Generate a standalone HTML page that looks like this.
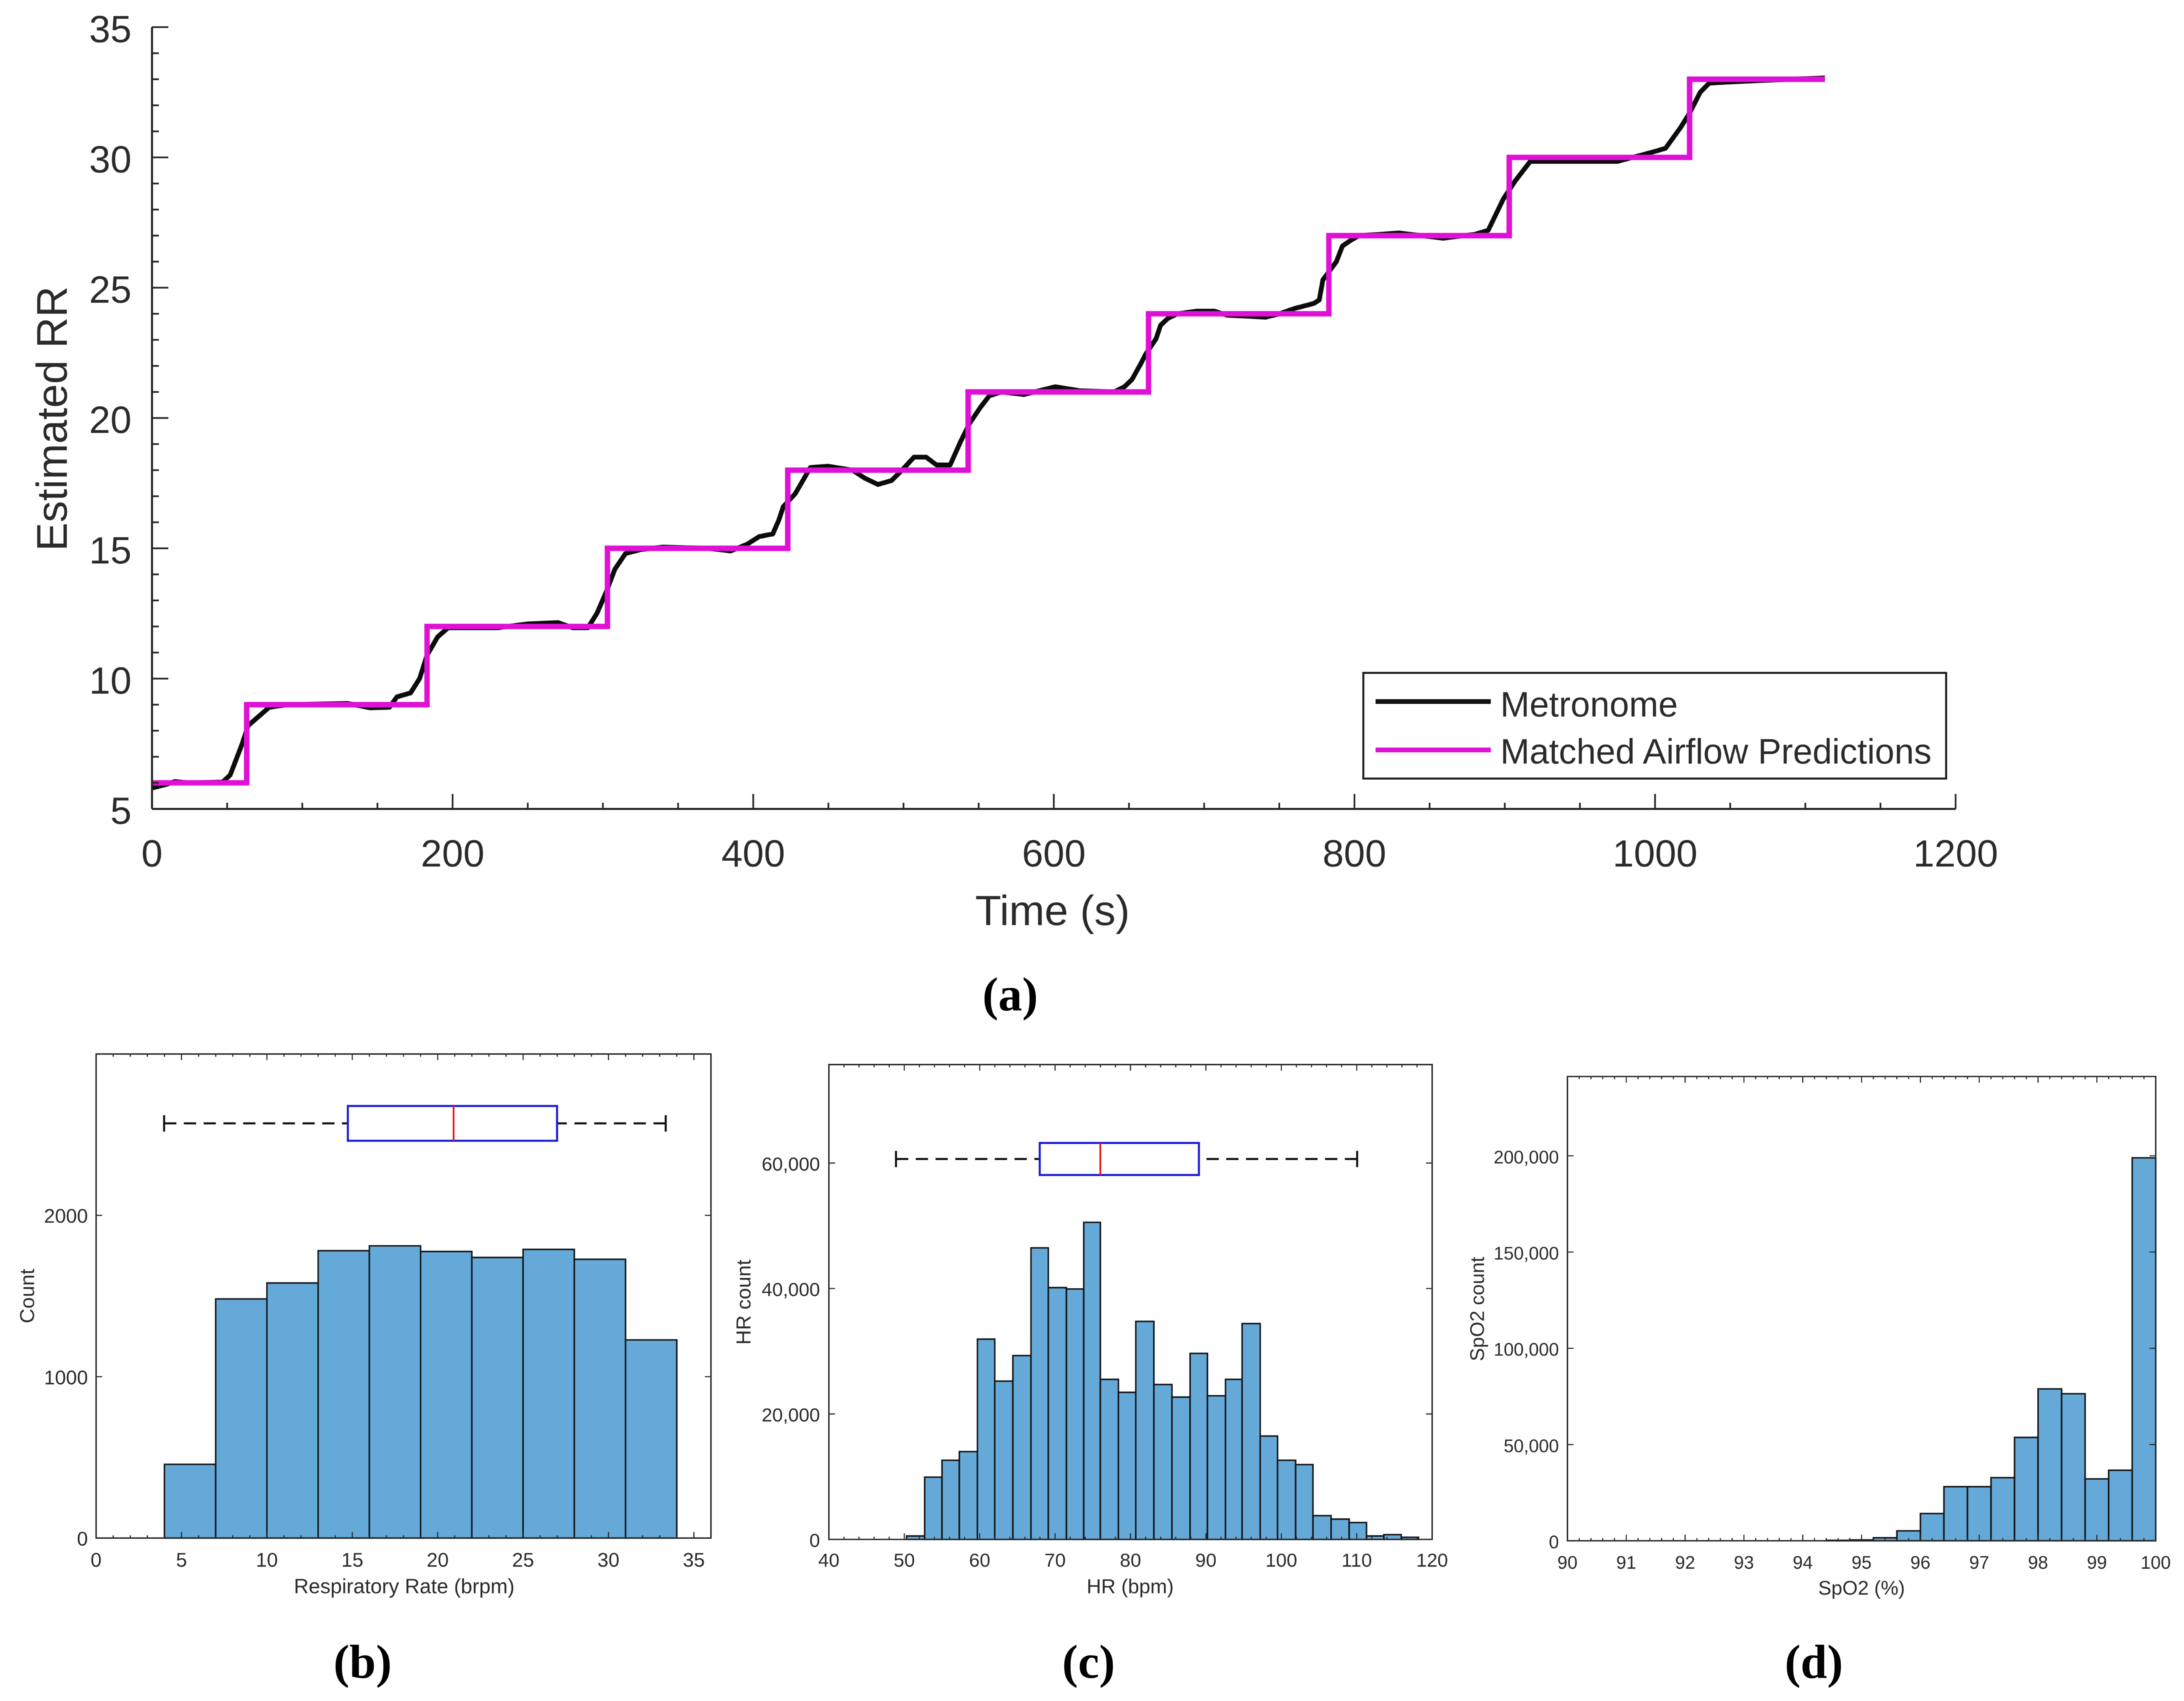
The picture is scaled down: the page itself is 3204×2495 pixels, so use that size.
<!DOCTYPE html>
<html lang="en">
<head>
<meta charset="utf-8">
<title>Respiratory rate estimation and vital sign histograms</title>
<style>
html,body{margin:0;padding:0;background:#fff;width:3204px;height:2495px;overflow:hidden}
svg{display:block;filter:blur(0.6px)}
text{font-family:"Liberation Sans",Arial,sans-serif;fill:#2b2b2b}
.caption{font-family:"Liberation Serif","Times New Roman",serif;font-weight:bold;font-size:70px;fill:#000;text-anchor:middle}
</style>
</head>
<body>
<svg id="figure" xmlns="http://www.w3.org/2000/svg" width="3204" height="2495" viewBox="0 0 3204 2495">
  <rect x="0" y="0" width="3204" height="2495" fill="#fff"/>
  <g id="panel-a"></g>
  <g id="panel-b"></g>
  <g id="panel-c"></g>
  <g id="panel-d"></g>

  <text transform="translate(98,614) rotate(-90)" text-anchor="middle" font-size="63">Estimated RR</text>
  <text x="1544" y="1357" text-anchor="middle" font-size="62.5">Time (s)</text>

  <text x="593" y="2337" text-anchor="middle" font-size="30.2">Respiratory Rate (brpm)</text>
  <text transform="translate(50,1901) rotate(-90)" text-anchor="middle" font-size="30">Count</text>
  <text x="1658" y="2337" text-anchor="middle" font-size="29.5">HR (bpm)</text>
  <text transform="translate(1101,1910) rotate(-90)" text-anchor="middle" font-size="30">HR count</text>
  <text x="2731" y="2339" text-anchor="middle" font-size="29">SpO2 (%)</text>
  <text transform="translate(2177,1920) rotate(-90)" text-anchor="middle" font-size="29">SpO2 count</text>

  <text class="caption" x="1482" y="1482">(a)</text>
  <text class="caption" x="532" y="2461">(b)</text>
  <text class="caption" x="1597" y="2461">(c)</text>
  <text class="caption" x="2661" y="2461">(d)</text>

  <g id="legend">
    <rect x="2000" y="987" width="855" height="155" fill="#fff" stroke="#222" stroke-width="3"/>
    <line x1="2018" x2="2187" y1="1029" y2="1029" stroke="#111" stroke-width="7"/>
    <text x="2201" y="1051" font-size="51.5">Metronome</text>
    <line x1="2018" x2="2187" y1="1100" y2="1100" stroke="#e011d6" stroke-width="7"/>
    <text x="2201" y="1120" font-size="51.5">Matched Airflow Predictions</text>
  </g>
</svg>
<script>
/* ---------- Panel (a) data ---------- */
const timeTickValues = [0, 200, 400, 600, 800, 1000, 1200];
const rrTickValues = [5, 10, 15, 20, 25, 30, 35];
const predictionTimes = [0, 63, 63, 183, 183, 303, 303, 423, 423, 543, 543, 663, 663, 783, 783, 903, 903, 1023, 1023, 1113];
const predictionRates = [6, 6, 9, 9, 12, 12, 15, 15, 18, 18, 21, 21, 24, 24, 27, 27, 30, 30, 33, 33];
const metronomeTimes = [0, 10, 15, 25, 47, 52, 56, 60, 64, 70, 78, 90, 130, 145, 158, 163, 172, 178, 183, 190, 197, 230, 250, 270, 280, 290, 296, 302, 308, 315, 325, 340, 370, 385, 396, 404, 413, 417, 420, 428, 434, 438, 450, 466, 474, 483, 492, 499, 507, 515, 522, 531, 538, 544, 551, 557, 565, 580, 601, 617, 640, 647, 652, 658, 661, 668, 671, 676, 682, 695, 707, 715, 741, 750, 760, 773, 776.6, 779, 788, 792, 797, 803, 830, 859, 880, 889, 899, 907, 917, 947, 975, 998, 1007, 1017, 1023, 1030, 1036, 1050, 1090, 1113];
const metronomeRates = [5.8, 5.95, 6.05, 6.0, 6.03, 6.3, 6.9, 7.5, 8.2, 8.5, 8.9, 9.0, 9.05, 8.88, 8.9, 9.3, 9.45, 10.0, 10.9, 11.6, 11.95, 11.95, 12.1, 12.15, 11.95, 11.95, 12.5, 13.3, 14.2, 14.8, 14.95, 15.05, 15.0, 14.9, 15.16, 15.45, 15.55, 16.08, 16.6, 17.1, 17.7, 18.1, 18.15, 18.0, 17.7, 17.45, 17.6, 18.0, 18.5, 18.5, 18.2, 18.2, 19.1, 19.8, 20.4, 20.85, 21.0, 20.9, 21.2, 21.05, 21.0, 21.2, 21.48, 22.1, 22.44, 23.04, 23.56, 23.83, 24.0, 24.1, 24.1, 23.95, 23.87, 24.0, 24.2, 24.4, 24.53, 25.3, 26.0, 26.6, 26.8, 27.0, 27.1, 26.9, 27.05, 27.2, 28.4, 29.1, 29.85, 29.85, 29.85, 30.2, 30.35, 31.15, 31.7, 32.5, 32.85, 32.9, 33.0, 33.05];

/* ---------- Panel (b) data ---------- */
const rrBinEdges = [4, 7, 10, 13, 16, 19, 22, 25, 28, 31, 34];
const rrCounts = [457, 1482, 1581, 1781, 1811, 1776, 1739, 1789, 1728, 1228];
const rrXTicks = [0, 5, 10, 15, 20, 25, 30, 35];
const rrYTicks = [0, 1000, 2000];
const rrYTickLabels = ['0', '1000', '2000'];
const rrBoxStats = [3.98, 14.74, 20.93, 26.99, 33.35];
const rrBoxLevel = [2570];

/* ---------- Panel (c) data ---------- */
const hrBinEdges = [50.3, 52.7, 55, 57.3, 59.7, 62, 64.4, 66.8, 69.1, 71.5, 73.8, 76, 78.4, 80.7, 83.1, 85.5, 87.9, 90.2, 92.6, 94.8, 97.2, 99.5, 101.9, 104.2, 106.6, 109, 111.3, 113.6, 115.9, 118.2];
const hrCounts = [550, 9930, 12620, 14000, 31930, 25240, 29310, 46480, 40140, 39930, 50550, 25520, 23450, 34760, 24690, 22690, 29660, 22900, 25520, 34410, 16480, 12620, 11930, 3790, 3240, 2690, 550, 760, 345];
const hrXTicks = [40, 50, 60, 70, 80, 90, 100, 110, 120];
const hrYTicks = [0, 20000, 40000, 60000];
const hrYTickLabels = ['0', '20,000', '40,000', '60,000'];
const hrBoxStats = [48.9, 67.96, 75.99, 89.07, 110.05];
const hrBoxLevel = [60650];

/* ---------- Panel (d) data ---------- */
const spo2BinEdges = [94.4, 94.8, 95.2, 95.6, 96, 96.4, 96.8, 97.2, 97.6, 98, 98.4, 98.8, 99.2, 99.6, 100];
const spo2Counts = [225, 450, 1570, 5170, 14160, 28100, 28100, 32800, 53700, 78900, 76400, 32150, 36650, 198950];
const spo2XTicks = [90, 91, 92, 93, 94, 95, 96, 97, 98, 99, 100];
const spo2YTicks = [0, 50000, 100000, 150000, 200000];
const spo2YTickLabels = ['0', '50,000', '100,000', '150,000', '200,000'];

const NS = 'http://www.w3.org/2000/svg';
const INK = '#262626';

function mk(tag, attrs, parent) {
  const node = document.createElementNS(NS, tag);
  for (const key in attrs) node.setAttribute(key, attrs[key]);
  parent.appendChild(node);
  return node;
}

function scale(d0, d1, p0, p1) {
  return v => p0 + (v - d0) * (p1 - p0) / (d1 - d0);
}

/* ---------- Panel (a) ---------- */
(function drawPanelA() {
  const g = document.getElementById('panel-a');
  const x = scale(0, 1200, 223, 2869);
  const y = scale(5, 35, 1186.5, 39.8);
  const bottom = y(5);
  const left = x(0);

  const metroPts = metronomeTimes.map((t, i) => x(t).toFixed(1) + ',' + y(metronomeRates[i]).toFixed(1)).join(' ');
  const metro = mk('polyline', {points: metroPts, fill: 'none', stroke: '#0c0c0c', 'stroke-width': 7, 'stroke-linejoin': 'round'}, g);
  
  

  const predPts = predictionTimes.map((t, i) => x(t).toFixed(1) + ',' + y(predictionRates[i]).toFixed(1)).join(' ');
  const pred = mk('polyline', {points: predPts, fill: 'none', stroke: '#e011d6', 'stroke-width': 8, 'stroke-linejoin': 'miter'}, g);
  
  

  const xAxis = mk('line', {x1: left, x2: x(1200), y1: bottom, y2: bottom, stroke: INK, 'stroke-width': 3}, g);
  
  
  const yAxis = mk('line', {x1: left, x2: left, y1: y(35), y2: bottom, stroke: INK, 'stroke-width': 3}, g);
  
  

  for (let t = 0; t <= 1200; t += 50) {
    const major = timeTickValues.includes(t);
    const tick = mk('line', {x1: x(t), x2: x(t), y1: bottom, y2: bottom - (major ? 22 : 9), stroke: INK, 'stroke-width': 2.5}, g);
    
    
  }
  for (let v = 5; v <= 35; v += 1) {
    const major = rrTickValues.includes(v);
    const tick = mk('line', {x1: left, x2: left + (major ? 24 : 10), y1: y(v), y2: y(v), stroke: INK, 'stroke-width': 2.5}, g);
    
    
  }
  timeTickValues.forEach(t => {
    const label = mk('text', {x: x(t), y: 1271, 'text-anchor': 'middle', 'font-size': 56}, g);
    label.textContent = String(t);
    
    
  });
  rrTickValues.forEach(v => {
    const label = mk('text', {x: 193, y: y(v) + 22, 'text-anchor': 'end', 'font-size': 56}, g);
    label.textContent = String(v);
    
    
  });
})();

/* ---------- Histograms ---------- */
function drawHistogram(opts) {
  const g = document.getElementById(opts.id);
  const b = opts.box;
  const x = scale(opts.xMin, opts.xMax, b.left, b.right);
  const y = scale(0, opts.yMax, b.bottom, b.top);

  const frame = mk('rect', {x: b.left, y: b.top, width: b.right - b.left, height: b.bottom - b.top, fill: '#fff', stroke: 'none'}, g);
  
  

  opts.counts.forEach((c, i) => {
    const x0 = x(opts.edges[i]);
    const x1 = x(opts.edges[i + 1]);
    const bar = mk('rect', {x: x0, y: y(c), width: x1 - x0, height: b.bottom - y(c), fill: '#64a9d8', stroke: '#141414', 'stroke-width': 2.2}, g);
    
    
  });

  if (opts.stats) {
    const s = opts.stats;
    const cy = y(opts.level);
    const whiskerLow = mk('line', {x1: x(s[0]), x2: x(s[1]), y1: cy, y2: cy, stroke: '#111', 'stroke-width': 3, 'stroke-dasharray': '18 11'}, g);
    
    
    const whiskerHigh = mk('line', {x1: x(s[4]), x2: x(s[3]), y1: cy, y2: cy, stroke: '#111', 'stroke-width': 3, 'stroke-dasharray': '18 11'}, g);
    
    
    const capLow = mk('line', {x1: x(s[0]), x2: x(s[0]), y1: cy - 12, y2: cy + 12, stroke: '#111', 'stroke-width': 3}, g);
    
    
    const capHigh = mk('line', {x1: x(s[4]), x2: x(s[4]), y1: cy - 12, y2: cy + 12, stroke: '#111', 'stroke-width': 3}, g);
    
    
    const iqr = mk('rect', {x: x(s[1]), y: cy - opts.boxHalf, width: x(s[3]) - x(s[1]), height: opts.boxHalf * 2, fill: '#fff', stroke: '#1a1ad6', 'stroke-width': 3}, g);
    
    
    const median = mk('line', {x1: x(s[2]), x2: x(s[2]), y1: cy - opts.boxHalf, y2: cy + opts.boxHalf, stroke: '#f01010', 'stroke-width': 2.5}, g);
    
    
  }

  const border = mk('rect', {x: b.left, y: b.top, width: b.right - b.left, height: b.bottom - b.top, fill: 'none', stroke: INK, 'stroke-width': 2}, g);
  
  

  const minorCount = Math.round((opts.xMax - opts.xMin) / opts.xMinor);
  for (let i = 0; i <= minorCount; i++) {
    const v = opts.xMin + i * opts.xMinor;
    const major = opts.xTicks.some(t => Math.abs(t - v) < 1e-6);
    const len = major ? 9 : 4;
    const bottomTick = mk('line', {x1: x(v), x2: x(v), y1: b.bottom, y2: b.bottom - len, stroke: INK, 'stroke-width': 1.6}, g);
    
    
    const topTick = mk('line', {x1: x(v), x2: x(v), y1: b.top, y2: b.top + len, stroke: INK, 'stroke-width': 1.6}, g);
    
    
  }
  opts.yTicks.forEach(v => {
    const leftTick = mk('line', {x1: b.left, x2: b.left + 9, y1: y(v), y2: y(v), stroke: INK, 'stroke-width': 1.6}, g);
    
    
    const rightTick = mk('line', {x1: b.right, x2: b.right - 9, y1: y(v), y2: y(v), stroke: INK, 'stroke-width': 1.6}, g);
    
    
  });

  opts.xTicks.forEach(v => {
    const label = mk('text', {x: x(v), y: opts.xLabelY, 'text-anchor': 'middle', 'font-size': opts.fontSize}, g);
    label.textContent = String(v);
    
    
  });
  opts.yTicks.forEach((v, i) => {
    const label = mk('text', {x: opts.yLabelX, y: y(v) + 11, 'text-anchor': 'end', 'font-size': opts.fontSize}, g);
    label.textContent = opts.yLabels[i];
    
    
  });
}

drawHistogram({
  id: 'panel-b', box: {left: 141, right: 1043, top: 1546, bottom: 2256},
  xMin: 0, xMax: 36, yMax: 3000, xMinor: 1,
  edges: rrBinEdges, counts: rrCounts, xTicks: rrXTicks, yTicks: rrYTicks, yLabels: rrYTickLabels,
  stats: rrBoxStats, level: rrBoxLevel[0], boxHalf: 25.5,
  xLabelY: 2298, yLabelX: 129, fontSize: 29
});
drawHistogram({
  id: 'panel-c', box: {left: 1216, right: 2101, top: 1561.5, bottom: 2258},
  xMin: 40, xMax: 120, yMax: 75700, xMinor: 2,
  edges: hrBinEdges, counts: hrCounts, xTicks: hrXTicks, yTicks: hrYTicks, yLabels: hrYTickLabels,
  stats: hrBoxStats, level: hrBoxLevel[0], boxHalf: 23.5,
  xLabelY: 2298, yLabelX: 1203, fontSize: 28
});
drawHistogram({
  id: 'panel-d', box: {left: 2299.5, right: 3162.5, top: 1579, bottom: 2260},
  xMin: 90, xMax: 100, yMax: 241200, xMinor: 0.2,
  edges: spo2BinEdges, counts: spo2Counts, xTicks: spo2XTicks, yTicks: spo2YTicks, yLabels: spo2YTickLabels,
  xLabelY: 2301, yLabelX: 2287, fontSize: 26.5
});
</script>
</body>
</html>
